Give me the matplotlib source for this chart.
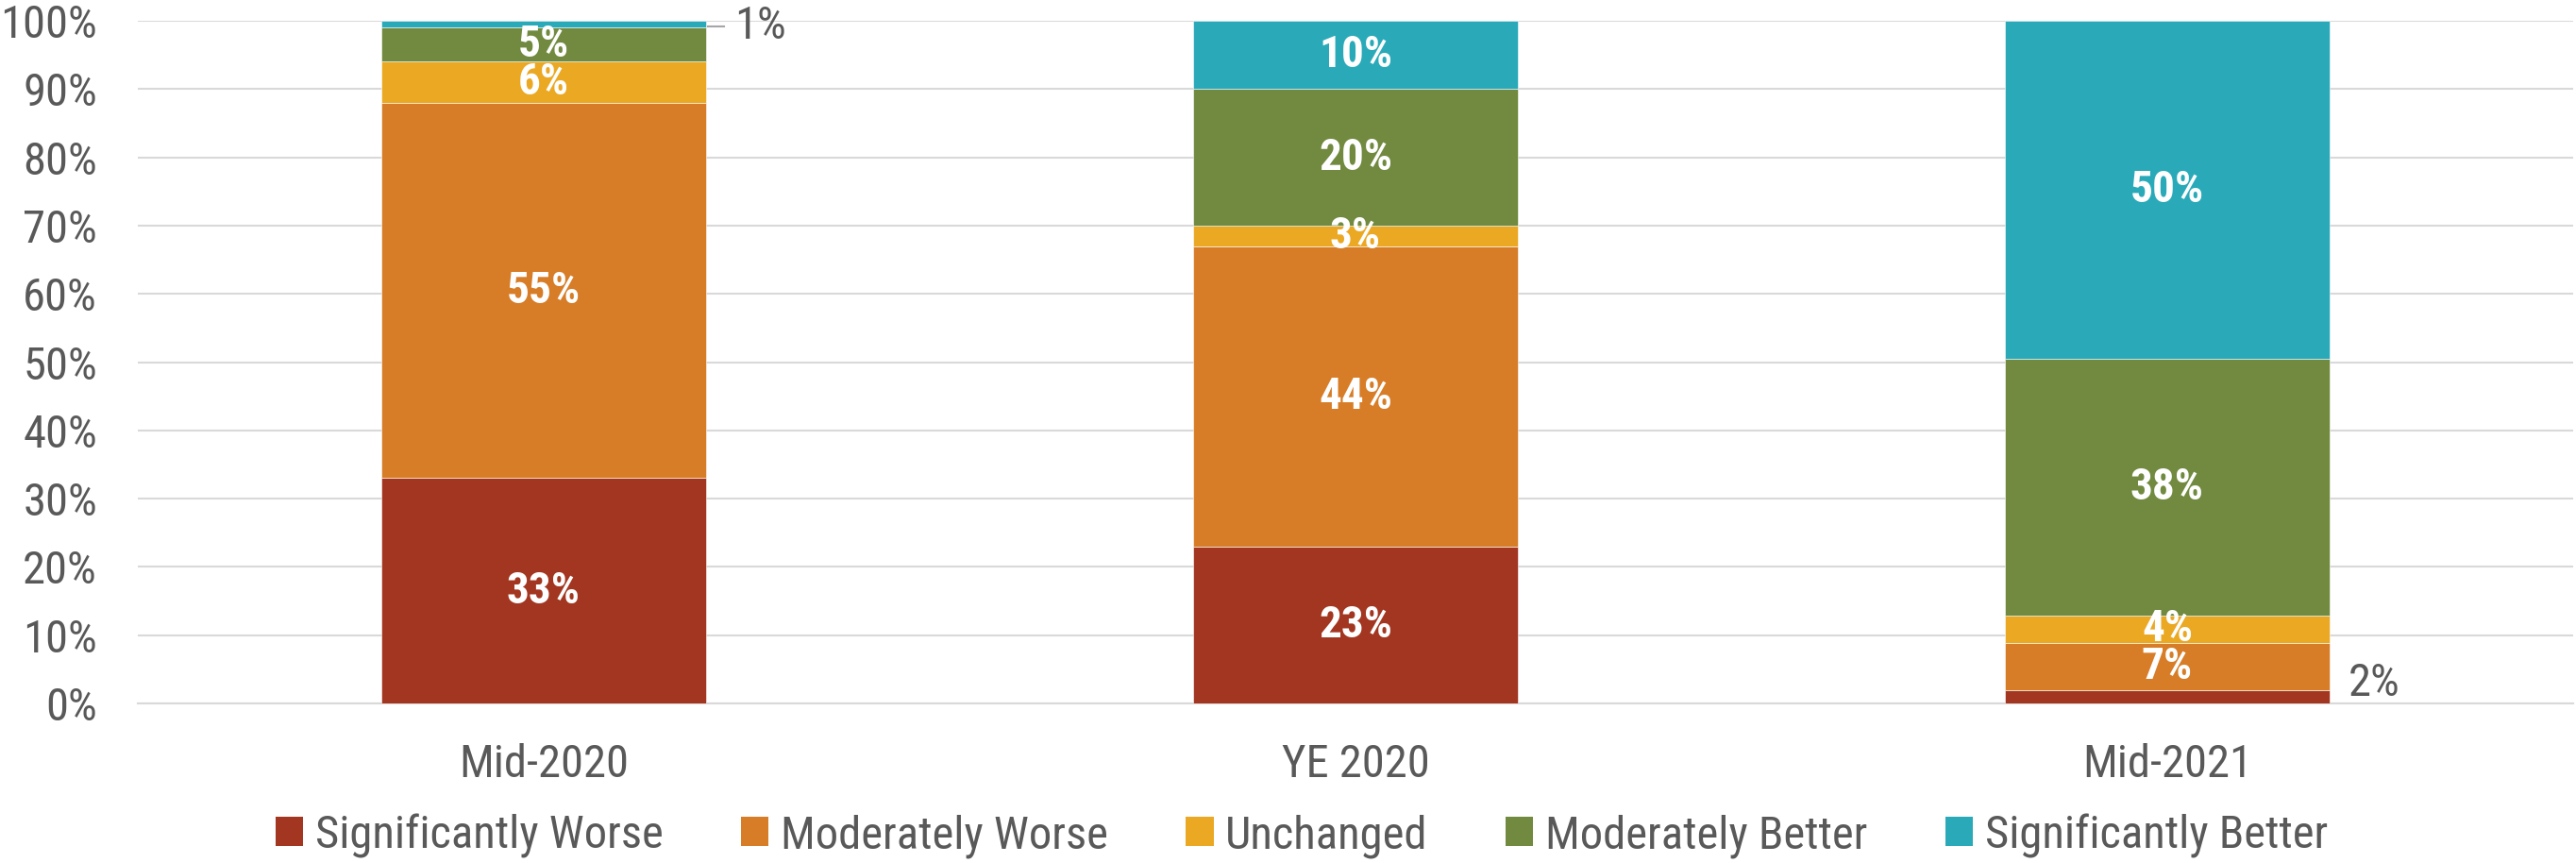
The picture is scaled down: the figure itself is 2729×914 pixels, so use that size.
import matplotlib
matplotlib.use("Agg")
import matplotlib.pyplot as plt
from matplotlib.patches import Patch
from matplotlib.ticker import PercentFormatter
import numpy as np

# Survey periods and response shares (%)
periods = ["Mid-2020", "YE 2020", "Mid-2021"]
series_names = ["Significantly Worse", "Moderately Worse", "Unchanged",
                "Moderately Better", "Significantly Better"]
significantly_worse = [33, 23, 2]
moderately_worse = [55, 44, 7]
unchanged = [6, 3, 4]
moderately_better = [5, 20, 38]
significantly_better = [1, 10, 50]
colors = ["#A23621", "#D77D27", "#EBA823", "#718A3F", "#2AAAB9"]

text_color = "#595959"
grid_color = "#D9D9D9"
plt.rcParams["font.family"] = ["Roboto Condensed", "DejaVu Sans"]

values = np.array([significantly_worse, moderately_worse, unchanged,
                   moderately_better, significantly_better], dtype=float)
totals = values.sum(axis=0)
shares = values / totals * 100  # 100% stacked

fig = plt.figure(figsize=(27.29, 9.14), dpi=100)
ax = fig.add_axes([146 / 2729, 169 / 914, 2580 / 2729, 723 / 914])

x = np.arange(len(periods))
bar_w = 0.4
bottom = np.zeros(len(periods))
for i, name in enumerate(series_names):
    ax.bar(x, shares[i], bar_w, bottom=bottom, color=colors[i], label=name,
           edgecolor="white", linewidth=0.4, zorder=3)
    for j in range(len(periods)):
        v = int(values[i, j])
        mid = bottom[j] + shares[i, j] / 2
        if v >= 3:
            ax.text(x[j], mid, f"{v}%", ha="center", va="center", color="white",
                    fontsize=34, fontweight="bold", zorder=4)
    bottom += shares[i]

# Small segments labelled outside the bars
ax.plot([x[0] + bar_w / 2 + 0.002, x[0] + bar_w / 2 + 0.022], [99.2, 99.2],
        color="#A6A6A6", lw=1.5, zorder=4, clip_on=False)
ax.text(x[0] + bar_w / 2 + 0.035, 99.2, f"{int(significantly_better[0])}%",
        ha="left", va="center", color=text_color, fontsize=35, clip_on=False)
ax.text(x[2] + bar_w / 2 + 0.023, 2.9, f"{int(significantly_worse[2])}%",
        ha="left", va="center", color=text_color, fontsize=35)

ax.set_xlim(-0.5, len(periods) - 0.5)
ax.set_ylim(0, 100)
ax.set_yticks(np.arange(0, 101, 10))
ax.yaxis.set_major_formatter(PercentFormatter(decimals=0))
ax.set_xticks(x)
ax.set_xticklabels(periods)
ax.tick_params(axis="both", length=0, labelsize=35, colors=text_color)
ax.tick_params(axis="y", pad=31)
ax.tick_params(axis="x", pad=30)
ax.grid(axis="y", color=grid_color, lw=1.5, zorder=0)
for s in ["top", "right", "left"]:
    ax.spines[s].set_visible(False)
ax.spines["bottom"].set_color(grid_color)
ax.spines["bottom"].set_linewidth(1.5)

handles = [Patch(facecolor=c, label=n) for c, n in zip(colors, series_names)]
fig.legend(handles=handles, loc="center", bbox_to_anchor=(1379 / 2729, 1 - 885 / 914),
           ncol=5, frameon=False, fontsize=35, labelcolor=text_color,
           handlelength=0.6, handleheight=0.6, handletextpad=0.26,
           columnspacing=1.7, borderpad=0, borderaxespad=0)

fig.savefig("out.png", dpi=100)
